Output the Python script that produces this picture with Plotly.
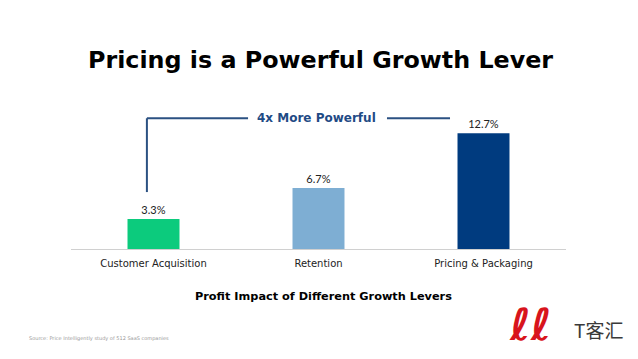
import plotly.graph_objects as go

categories = ["Customer Acquisition", "Retention", "Pricing & Packaging"]
values = [3.3, 6.7, 12.7]
value_labels = ["3.3%", "6.7%", "12.7%"]
bar_colors = ["#0ccb7d", "#7eaed3", "#003b7f"]

title_text = "Pricing is a Powerful Growth Lever"
subtitle_text = "Profit Impact of Different Growth Levers"
callout_text = "4x More Powerful"
source_text = "Source: Price Intelligently study of 512 SaaS companies"
brand_text = "T客汇"
logo_text = "ℓℓ"

FONT = "DejaVu Sans"
bracket_color = "#2b5182"

# page body has an 8px default margin; screen pixel -> figure pixel
OFF = 8
W, H = 638 - OFF, 359 - OFF
L = 71 - OFF
R = W - (566 - OFF)
T = 85 - OFF
B = H - (249 - OFF)
pw, ph = W - L - R, H - T - B


def px(sx):
    return (sx - OFF - L) / pw


def py(sy):
    return (H - B - (sy - OFF)) / ph


fig = go.Figure()
fig.add_trace(go.Bar(
    x=categories, y=values, text=value_labels, textposition="outside",
    marker=dict(color=bar_colors, line=dict(width=0)),
    width=0.315,
    textfont=dict(family="Lato", size=11, color="#222222"),
    cliponaxis=False, hoverinfo="skip",
))

shapes = [
    dict(type="line", xref="x", yref="y", x0=-0.04, x1=-0.04, y0=6.25, y1=14.35,
         line=dict(color=bracket_color, width=2)),
    dict(type="line", xref="x", yref="y", x0=-0.04, x1=0.573, y0=14.35, y1=14.35,
         line=dict(color=bracket_color, width=2)),
    dict(type="line", xref="x", yref="y", x0=1.415, x1=1.797, y0=14.35, y1=14.35,
         line=dict(color=bracket_color, width=2)),
]

annotations = [
    dict(text=f"<b>{callout_text}</b>", x=0.99, y=14.35, xref="x", yref="y",
         xanchor="center", yanchor="middle",
         showarrow=False, font=dict(family=FONT, size=12, color="#1f4b85")),
    dict(text=f"<b>{title_text}</b>", x=px(320), y=py(60), xref="paper", yref="paper",
         xanchor="center", yanchor="middle",
         showarrow=False, font=dict(family=FONT, size=23.8, color="#000000")),
    dict(text=f"<b>{subtitle_text}</b>", x=px(323), y=py(296), xref="paper", yref="paper",
         xanchor="center", yanchor="middle",
         showarrow=False, font=dict(family=FONT, size=11.3, color="#000000")),
    dict(text=source_text, x=px(27), y=py(338), xref="paper", yref="paper",
         xanchor="left", yanchor="middle",
         showarrow=False, font=dict(family=FONT, size=5, color="#9a9a9a")),
    dict(text=f"<b><i>{logo_text}</i></b>", x=px(530), y=py(324), xref="paper", yref="paper",
         xanchor="center", yanchor="middle",
         showarrow=False, font=dict(family=FONT, size=44, color="#d8141c")),
    dict(text=brand_text, x=px(598), y=py(329), xref="paper", yref="paper",
         xanchor="center", yanchor="middle",
         showarrow=False, font=dict(family="Noto Sans CJK SC", size=19, color="#3a3a3a")),
]

fig.update_layout(
    width=W, height=H, margin=dict(l=L, r=R, t=T, b=B),
    paper_bgcolor="white", plot_bgcolor="white",
    showlegend=False, shapes=shapes, annotations=annotations,
    xaxis=dict(range=[-0.5, 2.5], showline=True, linecolor="#d0d0d0", linewidth=1,
               ticks="outside", ticklen=5, tickcolor="rgba(0,0,0,0)",
               tickfont=dict(family=FONT, size=10, color="#222222"),
               showgrid=False, fixedrange=True),
    yaxis=dict(range=[0, 18], visible=False, showgrid=False, fixedrange=True),
)

fig.write_html("out.html")
